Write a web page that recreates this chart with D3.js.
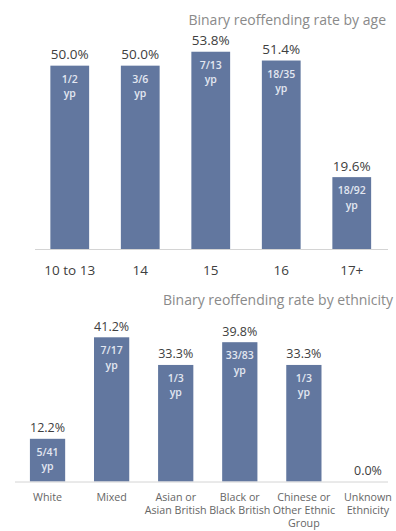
<!DOCTYPE html>
<html>
<head>
<meta charset="utf-8">
<script src="https://cdn.jsdelivr.net/npm/d3@7"></script>
<style>
  html, body { margin: 0; padding: 0; background: #ffffff; }
  svg { display: block; }
  text { font-family: "Open Sans", Lato, sans-serif; }
</style>
</head>
<body>
<svg id="chart" width="396" height="531"></svg>
<script>
// Reoffending by age
const ageCategories = ["10 to 13", "14", "15", "16", "17+"];
const ageRates = [50.0, 50.0, 53.8, 51.4, 19.6];
const ageCounts = ["1/2", "3/6", "7/13", "18/35", "18/92"];

// Reoffending by ethnicity
const ethCategories = ["White", "Mixed", "Asian or Asian British", "Black or Black British", "Chinese or Other Ethnic Group", "Unknown Ethnicity"];
const ethTickLines = [["White"], ["Mixed"], ["Asian or", "Asian British"], ["Black or", "Black British"], ["Chinese or", "Other Ethnic", "Group"], ["Unknown", "Ethnicity"]];
const ethRates = [12.2, 41.2, 33.3, 39.8, 33.3, 0.0];
const ethCounts = ["5/41", "7/17", "1/3", "33/83", "1/3", null];

const BAR = "#62779f";
const INNER = "#e3e7f1";
const VALUE = "#404040";

const svg = d3.select("#chart");

function drawPanel(cfg) {
  const g = svg.append("g");
  const x = d3.scaleBand().domain(cfg.categories).range(cfg.xRange)
    .paddingInner(0.45).paddingOuter(0.225);
  const y = d3.scaleLinear().domain(cfg.yDomain).range(cfg.yRange);
  const rows = cfg.categories.map((c, i) => ({ c, v: cfg.rates[i], n: cfg.counts[i], i }));

  g.append("text")
    .attr("x", cfg.titleX).attr("y", cfg.titleY)
    .attr("text-anchor", cfg.titleAnchor)
    .attr("font-size", 14).attr("fill", "#8a8a8a")
    .text(cfg.title);

  g.selectAll("rect.bar").data(rows).join("rect")
    .attr("class", "bar")
    .attr("x", d => x(d.c))
    .attr("width", x.bandwidth())
    .attr("y", d => y(d.v))
    .attr("height", d => y(0) - y(d.v))
    .attr("fill", BAR);

  // baseline
  g.append("line")
    .attr("x1", cfg.axisX[0]).attr("x2", cfg.axisX[1])
    .attr("y1", y(0) + 0.5).attr("y2", y(0) + 0.5)
    .attr("stroke", "#d4d4d4").attr("stroke-width", 1);

  // value labels
  g.selectAll("text.val").data(rows).join("text")
    .attr("class", "val")
    .attr("x", d => x(d.c) + x.bandwidth() / 2)
    .attr("y", d => y(d.v) - 6.5)
    .attr("text-anchor", "middle")
    .attr("font-size", cfg.valueSize).attr("fill", VALUE)
    .text(d => d.v.toFixed(1) + "%");

  // counts inside bars
  const inner = g.selectAll("g.inner").data(rows.filter(d => d.n)).join("g")
    .attr("class", "inner")
    .attr("transform", d => `translate(${x(d.c) + x.bandwidth() / 2},${y(d.v)})`);
  inner.append("text").attr("y", 17).attr("text-anchor", "middle")
    .attr("font-size", 10.5).attr("fill", INNER).attr("font-weight", 600)
    .text(d => d.n);
  inner.append("text").attr("y", 31.5).attr("text-anchor", "middle")
    .attr("font-size", 10.5).attr("fill", INNER).attr("font-weight", 600)
    .text("yp");

  // category labels
  const ticks = g.selectAll("text.tick").data(rows).join("text")
    .attr("class", "tick")
    .attr("text-anchor", "middle")
    .attr("font-size", cfg.tickSize).attr("fill", cfg.tickColor);
  ticks.each(function (d) {
    const lines = cfg.tickLines ? cfg.tickLines[d.i] : [d.c];
    d3.select(this).selectAll("tspan").data(lines).join("tspan")
      .attr("x", x(d.c) + x.bandwidth() / 2)
      .attr("y", (l, k) => y(0) + cfg.tickOffset + k * 13)
      .text(l => l);
  });
}

drawPanel({
  categories: ageCategories, rates: ageRates, counts: ageCounts,
  xRange: [34.5, 387], yDomain: [0, 60], yRange: [249, 29],
  axisX: [35, 388],
  title: "Binary reoffending rate by age", titleX: 386, titleY: 25, titleAnchor: "end",
  valueSize: 13.5, tickSize: 13.5, tickColor: "#404040", tickOffset: 26
});

drawPanel({
  categories: ethCategories, rates: ethRates, counts: ethCounts, tickLines: ethTickLines,
  xRange: [15.5, 400], yDomain: [0, 45], yRange: [481.5, 324],
  axisX: [15, 388],
  title: "Binary reoffending rate by ethnicity", titleX: 163, titleY: 305, titleAnchor: "start",
  valueSize: 12.5, tickSize: 10.7, tickColor: "#666666", tickOffset: 19
});
</script>
</body>
</html>
